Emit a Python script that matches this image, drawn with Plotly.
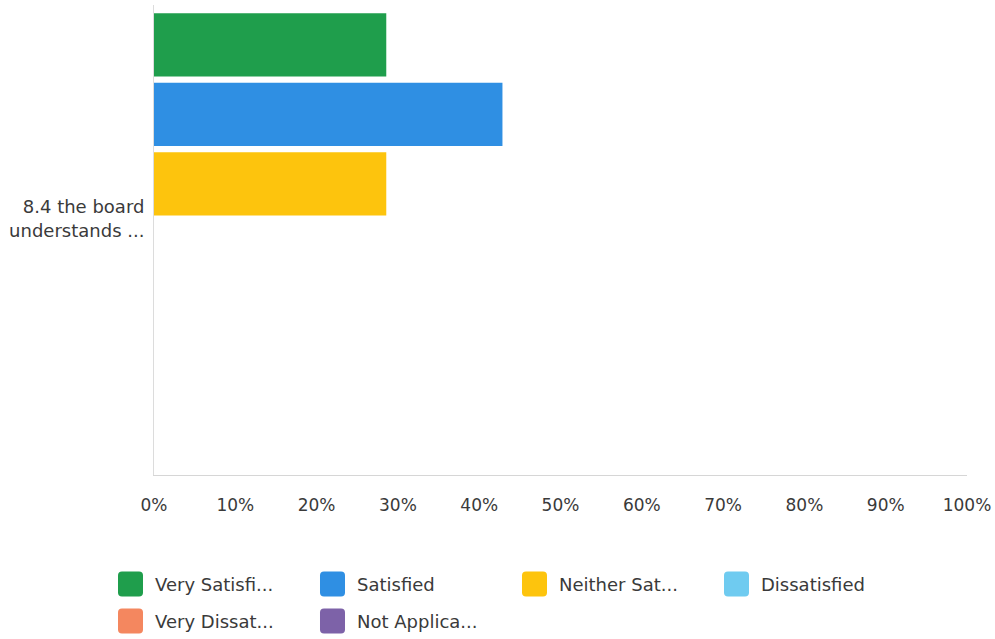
import plotly.graph_objects as go

# ---- data ----
categories = ["8.4 the board<br>understands ..."]
series_names = ["Very Satisfi...", "Satisfied", "Neither Sat...", "Dissatisfied",
                "Very Dissat...", "Not Applica..."]
series_values = [
    [0.2857],
    [0.4286],
    [0.2857],
    [0.0],
    [0.0],
    [0.0],
]
series_colors = ["#1f9e4c", "#2f8fe3", "#fdc40d", "#6fcbf0", "#f4875f", "#7d62a8"]
x_tickvals = [0, 0.1, 0.2, 0.3, 0.4, 0.5, 0.6, 0.7, 0.8, 0.9, 1.0]
x_ticktext = ["0%", "10%", "20%", "30%", "40%", "50%", "60%", "70%", "80%", "90%", "100%"]

W, H = 995, 639
L, R, T, B = 154, 28, 5, 164
PW, PH = W - L - R, H - T - B

FONT = "DejaVu Sans"
TXT = "#3a3a3a"

fig = go.Figure()
for name, vals, col in zip(series_names, series_values, series_colors):
    fig.add_trace(go.Bar(
        y=categories, x=vals, name=name, orientation="h",
        marker=dict(color=col, line=dict(width=0)),
        showlegend=False,
    ))

# manual legend (rounded squares + labels)
def px2paper(px, py):
    return (px - L) / PW, (H - B - py) / PH

col_x = [118, 320, 522, 724]
row_y = [584, 621]
sq = 25
rad = 4
shapes = []
annotations = []
for i, (name, col) in enumerate(zip(series_names, series_colors)):
    cx = col_x[i % 4]
    cy = row_y[i // 4]
    x0, x1 = cx, cx + sq
    y0, y1 = cy - sq / 2, cy + sq / 2

    def P(x, y):
        a, b = px2paper(x, y)
        return f"{a:.5f},{b:.5f}"
    path = (f"M {P(x0 + rad, y0)} L {P(x1 - rad, y0)} Q {P(x1, y0)} {P(x1, y0 + rad)} "
            f"L {P(x1, y1 - rad)} Q {P(x1, y1)} {P(x1 - rad, y1)} "
            f"L {P(x0 + rad, y1)} Q {P(x0, y1)} {P(x0, y1 - rad)} "
            f"L {P(x0, y0 + rad)} Q {P(x0, y0)} {P(x0 + rad, y0)} Z")
    shapes.append(dict(type="path", xref="paper", yref="paper", path=path,
                       fillcolor=col, line=dict(width=0)))
    tx, ty = px2paper(cx + 35, cy)
    annotations.append(dict(xref="paper", yref="paper", x=tx, y=ty, text=name,
                            showarrow=False, xanchor="left", yanchor="middle",
                            font=dict(family=FONT, size=18, color=TXT)))

fig.update_layout(
    width=W, height=H,
    margin=dict(l=L, r=R, t=T, b=B, autoexpand=False),
    paper_bgcolor="white", plot_bgcolor="white",
    barmode="group", bargap=0.0, bargroupgap=0.09,
    shapes=shapes, annotations=annotations,
    font=dict(family=FONT, size=17, color=TXT),
)
fig.update_xaxes(
    range=[0, 1], tickvals=x_tickvals, ticktext=x_ticktext,
    showgrid=False, zeroline=False,
    showline=True, linecolor="#d6d6d6", linewidth=1,
    ticks="", ticklabelstandoff=15,
    tickfont=dict(family=FONT, size=17, color=TXT),
)
fig.update_yaxes(
    range=[0.615, -0.512],
    showgrid=False, zeroline=False,
    showline=True, linecolor="#dcdcdc", linewidth=1,
    ticks="", ticklabelstandoff=5,
    tickfont=dict(family=FONT, size=18, color=TXT),
)

fig.write_html("out.html")
